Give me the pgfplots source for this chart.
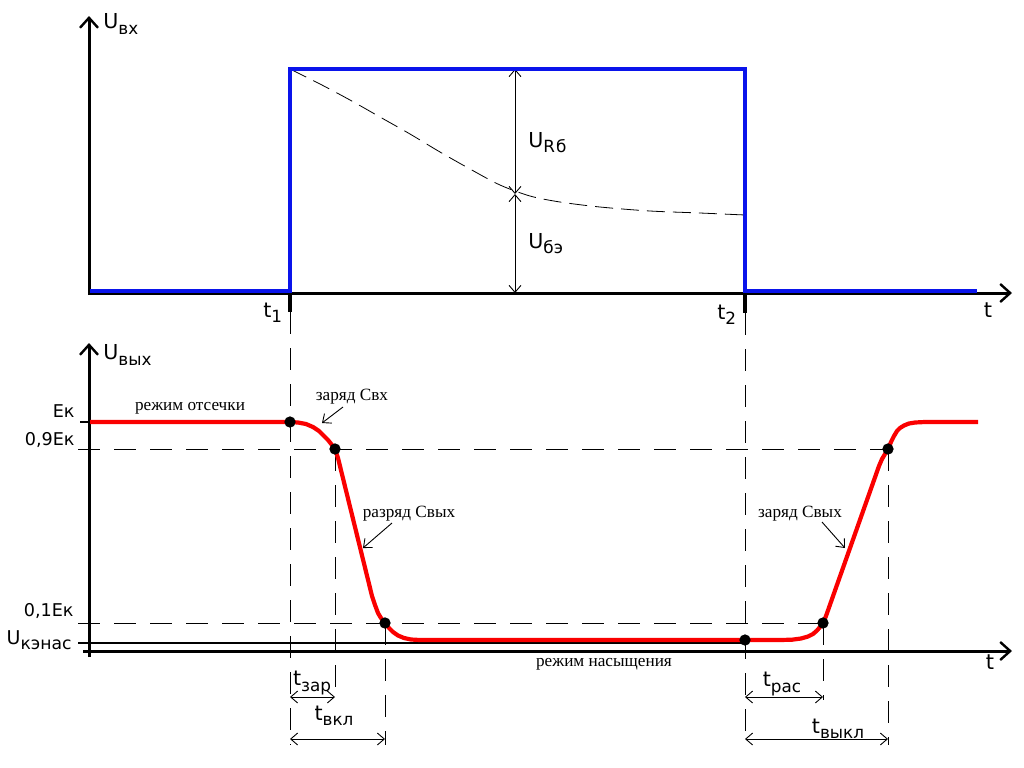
\documentclass[border=0pt]{standalone}
\usepackage{fontspec}
\setmainfont{DejaVu Sans}
\newfontfamily\serif{Liberation Serif}
\usepackage{pgfplots}
\pgfplotsset{compat=1.18}
\usetikzlibrary{arrows.meta}
\definecolor{pblue}{RGB}{10,20,235}
\definecolor{pred}{RGB}{250,0,0}
\newcommand{\lab}[2]{{\fontsize{10.3}{10}\selectfont #1\raisebox{-0.45ex}{\fontsize{8.4}{8}\selectfont #2}}}
\newcommand{\ann}[1]{{\serif\fontsize{8.6}{9}\selectfont #1}}
\begin{document}
\begin{tikzpicture}
\begin{axis}[hide axis, scale only axis, width=512pt, height=383.5pt,
  xmin=0, xmax=1024, ymin=0, ymax=767, y dir=reverse, clip=false,
  axisarrow/.style={line width=1.5pt, -{Straight Barb[length=5pt,width=9pt,line width=1.2pt]}},
  dimarrow/.style={line width=0.45pt, {Straight Barb[length=3.5pt,width=6pt]}-{Straight Barb[length=3.5pt,width=6pt]}},
  callout/.style={line width=0.45pt, -{Straight Barb[length=3.5pt,width=6pt]}},
  dash/.style={line width=0.5pt, dash pattern=on 11pt off 7pt}]
% bounding frame (invisible)
\addplot[draw=none] coordinates {(0,0) (1024,767)};

% ---------- top panel ----------
\addplot[line width=0.4pt, dash pattern=on 9pt off 4pt, smooth] coordinates {
 (290,69) (320,84) (350,100) (380,117) (410,134) (440,152) (470,169) (500,185)
 (530,196) (560,202) (600,207) (650,211) (700,213) (745,215)};
\addplot[dimarrow] coordinates {(515,69) (515,194)};
\addplot[dimarrow] coordinates {(515,194) (515,293)};
\addplot[axisarrow] coordinates {(89,293) (1012,293)};
\addplot[axisarrow] coordinates {(89,295) (89,16)};
\addplot[pblue, line width=2.1pt] coordinates {(90,291) (290,291) (290,69) (745,69) (745,291) (977,291)};
\addplot[line width=2pt] coordinates {(290,293) (290,312)};
\addplot[line width=2pt] coordinates {(745,293) (745,313)};

% ---------- vertical dashed lines ----------
\addplot[dash] coordinates {(290,312) (290,745)};
\addplot[dash] coordinates {(335,449) (335,700)};
\addplot[dash] coordinates {(385,623) (385,745)};
\addplot[dash] coordinates {(745,313) (745,745)};
\addplot[dash] coordinates {(823,623) (823,700)};
\addplot[dash] coordinates {(888,449) (888,745)};

% ---------- bottom panel ----------
\addplot[dash] coordinates {(78,449) (888,449)};
\addplot[dash] coordinates {(78,623) (823,623)};
\addplot[line width=0.6pt] coordinates {(78,643) (745,643)};
\addplot[line width=1pt] coordinates {(80,422) (90,422)};
\addplot[axisarrow] coordinates {(83,651) (1012,651)};
\addplot[axisarrow] coordinates {(89,657) (89,343)};
\addplot[pred, line width=2.1pt, line join=round] coordinates {
 (90,422) (290,422) (298,422.5) (306,424) (313,427) (319,431) (324,436)
 (328,440) (332,445) (335,449) (338,458)
 (372,596) (375,605) (378,613) (381,618) (385,623) (389,628) (393,632)
 (398,635.5) (404,638) (411,639.5) (420,640)
 (780,640) (792,639.7) (801,638.5) (808,636.5) (813,634) (817,630.5) (820,627) (823,623) (826,616)
 (879,466) (882,459) (885,454) (888,449) (891,442) (894,436) (897,431) (900,428)
 (904,425.5) (909,423.5) (915,422.5) (925,422) (978,422)};
\addplot[only marks, mark=*, mark size=2.6pt, black] coordinates {
 (290,422) (335,449) (385,623) (745,640) (823,623) (888,449)};

% callouts
\addplot[callout] coordinates {(343,407) (322,423)};
\addplot[callout] coordinates {(392,523) (363,548)};
\addplot[callout] coordinates {(822,522) (845,548)};

% time intervals
\addplot[dimarrow] coordinates {(290,697) (335,697)};
\addplot[dimarrow] coordinates {(290,739) (385,739)};
\addplot[dimarrow] coordinates {(745,697) (823,697)};
\addplot[dimarrow] coordinates {(745,739) (888,739)};

% ---------- labels ----------
\node[anchor=west, inner sep=0pt] at (axis cs:103,24) {\lab{U}{вх}};
\node[anchor=west, inner sep=0pt] at (axis cs:528,143) {\lab{U}{R\kern0.5pt б}};
\node[anchor=west, inner sep=0pt] at (axis cs:528,244) {\lab{U}{бэ}};
\node[anchor=west, inner sep=0pt] at (axis cs:263,313) {\lab{t}{1}};
\node[anchor=west, inner sep=0pt] at (axis cs:717,315) {\lab{t}{2}};
\node[inner sep=0pt] at (axis cs:988,310) {\fontsize{10.5}{10}\selectfont t};

\node[anchor=west, inner sep=0pt] at (axis cs:103,355) {\lab{U}{вых}};
\node[anchor=east, inner sep=0pt] at (axis cs:75,411) {\fontsize{8.8}{8}\selectfont Ек};
\node[anchor=east, inner sep=0pt] at (axis cs:75,440) {\fontsize{8.8}{8}\selectfont 0,9Ек};
\node[anchor=east, inner sep=0pt] at (axis cs:74,611) {\fontsize{8.8}{8}\selectfont 0,1Ек};
\node[anchor=east, inner sep=0pt] at (axis cs:72,640) {{\fontsize{9.5}{9}\selectfont U\raisebox{-0.45ex}{\fontsize{8.6}{8}\selectfont кэнас}}};
\node[inner sep=0pt] at (axis cs:990,662) {\fontsize{10.5}{10}\selectfont t};

\node[inner sep=0pt] at (axis cs:190,408) {\ann{режим отсечки}};
\node[inner sep=0pt] at (axis cs:352,397) {\ann{заряд Свх}};
\node[inner sep=0pt] at (axis cs:409,514) {\ann{разряд Свых}};
\node[inner sep=0pt] at (axis cs:800,514) {\ann{заряд Свых}};
\node[inner sep=0pt] at (axis cs:604,664) {\ann{режим насыщения}};

\node[inner sep=0pt] at (axis cs:312,683) {\lab{t}{зар}};
\node[inner sep=0pt] at (axis cs:334,716) {\lab{t}{вкл}};
\node[inner sep=0pt] at (axis cs:782,684) {\lab{t}{рас}};
\node[inner sep=0pt] at (axis cs:838,729) {\lab{t}{выкл}};
\end{axis}
\end{tikzpicture}
\end{document}
